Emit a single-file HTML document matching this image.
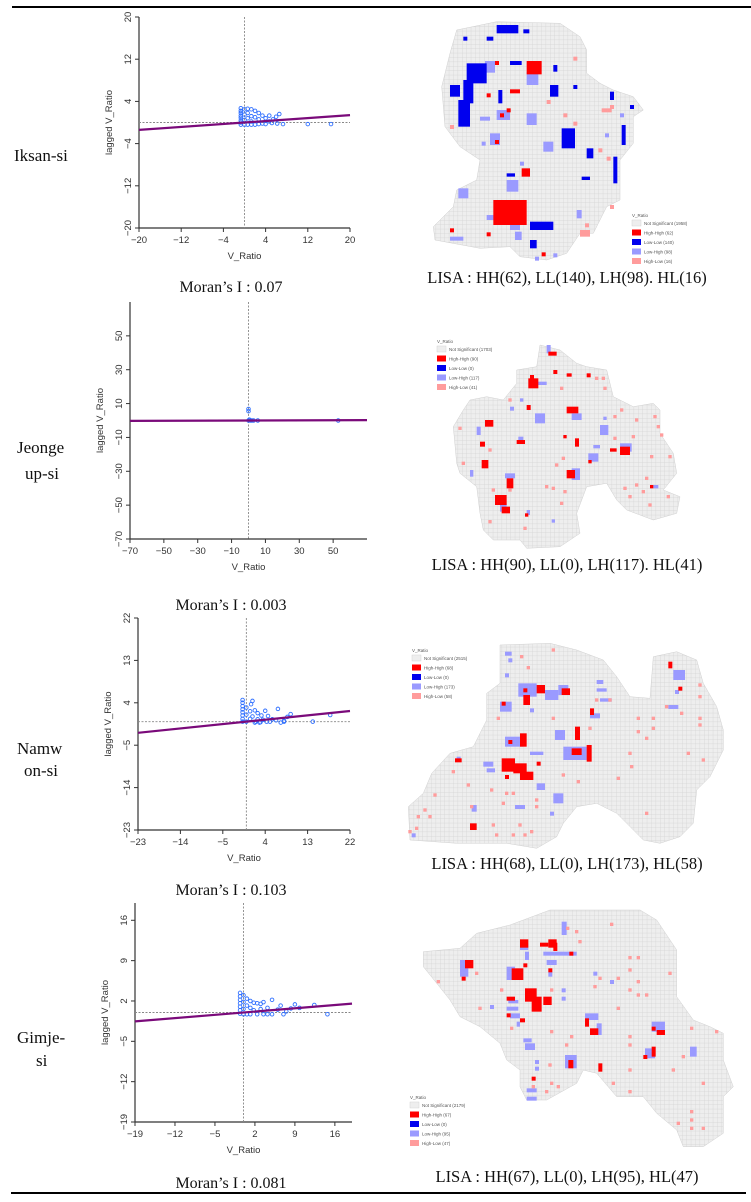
<!DOCTYPE html>
<html><head><meta charset="utf-8">
<style>
html,body{margin:0;padding:0;background:#fff;}
svg{display:block;}
.tk{font-family:"Liberation Sans",sans-serif;font-size:9.5px;fill:#333;}
.sr{font-family:"Liberation Serif",serif;fill:#111;}
.lg{font-family:"Liberation Sans",sans-serif;font-size:4.5px;fill:#555;}
</style></head>
<body>
<svg id="fig" width="751" height="1202" viewBox="0 0 751 1202" xmlns="http://www.w3.org/2000/svg">
<defs>
<pattern id="grid" width="4.4" height="4.4" patternUnits="userSpaceOnUse">
<rect width="4.4" height="4.4" fill="#eeeeee"/>
<path d="M0 0H4.4M0 0V4.4" stroke="#c9c9c9" stroke-width="0.5"/>
</pattern>
</defs>
<line x1="12" y1="7" x2="751" y2="7" stroke="#000" stroke-width="2"/>
<line x1="11" y1="1193" x2="746" y2="1193" stroke="#000" stroke-width="2"/>
<text class="sr" x="14" y="161" font-size="17">Iksan-si</text>
<text class="sr" x="17" y="453" font-size="17">Jeonge</text>
<text class="sr" x="25" y="479" font-size="17">up-si</text>
<text class="sr" x="17" y="754" font-size="17">Namw</text>
<text class="sr" x="24" y="776" font-size="17">on-si</text>
<text class="sr" x="17" y="1043" font-size="17">Gimje-</text>
<text class="sr" x="36" y="1066" font-size="17">si</text>
<g id="plots"></g>
<g id="maps"></g>
</svg>
<script>
// ---- scatter data ----
const p1XTicks=[-20,-12,-4,4,12,20];
const p1YTicks=[-20,-12,-4,4,12,20];
const p1Pts=[[-0.7,2.7],[-0.7,2.2],[-0.7,1.8],[-0.7,1.3],[-0.7,0.9],[-0.7,0.4],[-0.7,0],[-0.7,-0.4],[0,2.5],[0,1.5],[0,0.5],[0,-0.4],[0.6,2.6],[0.6,1.8],[0.6,0.8],[0.6,-0.4],[1.3,2.5],[1.3,1.2],[1.3,0.2],[1.3,-0.4],[2,2.2],[2,1],[2,-0.4],[2.7,1.8],[2.7,0.6],[2.7,-0.3],[3.4,1.3],[3.4,-0.2],[4,0.8],[4,-0.3],[4.7,1.3],[4.7,0.2],[5.4,0.6],[6,1.1],[6.6,1.6],[6.2,-0.2],[7.3,-0.3],[12,-0.3],[16.4,-0.3],[5.2,-0.1]];
const p1Moran=0.07;
const p2XTicks=[-70,-50,-30,-10,10,30,50];
const p2YTicks=[-70,-50,-30,-10,10,30,50];
const p2Pts=[[0,6.8],[0,5.5],[0,0],[1,0],[2,0],[3,0],[5.5,0],[53,0],[0.5,0.5]];
const p2Moran=0.003;
const p3XTicks=[-23,-14,-5,4,13,22];
const p3YTicks=[-23,-14,-5,4,13,22];
const p3Pts=[[-0.8,4.6],[-0.8,4],[-0.8,3.3],[-0.8,2.6],[-0.8,2],[-0.8,1.3],[-0.8,0.6],[-0.8,0],[0,3],[0,1.5],[0,0],[0.8,2.2],[0.8,0.6],[1.3,4.4],[1.3,1.1],[1,3.7],[1.8,2.4],[1.8,-0.2],[2.4,1.8],[2.4,0.5],[2.8,-0.2],[3.2,1.3],[3.5,0.4],[4,2.3],[4.3,0],[4.6,1.2],[5,0],[5.5,0.5],[6.7,2.7],[6.3,0.3],[7.3,-0.2],[8,0.2],[8.7,1],[9.4,1.6],[8,0],[14.1,0],[17.8,1.4],[2,0],[3,-0.1]];
const p3Moran=0.103;
const p4XTicks=[-19,-12,-5,2,9,16];
const p4YTicks=[-19,-12,-5,2,9,16];
const p4Pts=[[-0.6,3.4],[-0.6,2.8],[-0.6,2.2],[-0.6,1.6],[-0.6,1],[-0.6,0.4],[-0.6,-0.2],[0,3],[0,1.8],[0,0.6],[0,-0.3],[0.6,2.4],[0.6,1.2],[0.6,-0.3],[1.2,2],[1.2,0.8],[1.2,-0.3],[1.8,1.7],[1.8,0.4],[2.4,1.6],[2.4,-0.3],[3,1.5],[3,0.6],[3.5,1.8],[3.5,-0.3],[4.2,0.8],[4.2,-0.3],[5,2.2],[5,-0.3],[6.5,1.2],[7,-0.3],[7.5,0.2],[8.3,0.7],[9,1.4],[9.8,0.8],[12.4,1.3],[14.7,-0.3],[6,0.5]];
const p4Moran=0.081;

const NS='http://www.w3.org/2000/svg';
function mk(tag,attrs,parent){const e=document.createElementNS(NS,tag);for(const k in attrs)e.setAttribute(k,attrs[k]);parent.appendChild(e);return e;}

function scatter(name,px0,px1,py0,py1,dmin,dmax,xt,yt,pts,moran,moranY,hline){
  const g=mk('g',{},document.getElementById('plots'));
  
  
  const sx=v=>px0+(v-dmin)/(dmax-dmin)*(px1-px0);
  const sy=v=>py0-(v-dmin)/(dmax-dmin)*(py0-py1);
  const ax=mk('path',{d:`M${px0} ${py1}V${py0}H${px1}`,fill:'none',stroke:'#333','stroke-width':1.2},g);
  
  
  xt.forEach(v=>{
    mk('line',{x1:sx(v),x2:sx(v),y1:py0,y2:py0+4,stroke:'#333'},g);
    const t=mk('text',{x:sx(v),y:py0+15,'text-anchor':'middle',class:'tk'},g);t.textContent=(v<0?'\u2212'+(-v):v);
    
    
  });
  yt.forEach(v=>{
    mk('line',{x1:px0-4,x2:px0,y1:sy(v),y2:sy(v),stroke:'#333'},g);
    const t=mk('text',{x:px0-8,y:sy(v),'text-anchor':'middle',class:'tk',transform:`rotate(-90 ${px0-8} ${sy(v)})`},g);t.textContent=(v<0?'\u2212'+(-v):v);
    
    
  });
  const xtl=mk('text',{x:(px0+px1)/2,y:py0+31,'text-anchor':'middle',class:'tk'},g);xtl.textContent='V_Ratio';
  
  
  const cy=(py0+py1)/2;
  const ytl=mk('text',{x:px0-27,y:cy,'text-anchor':'middle',class:'tk',transform:`rotate(-90 ${px0-27} ${cy})`},g);ytl.textContent='lagged V_Ratio';
  
  
  mk('line',{x1:sx(0),x2:sx(0),y1:py1,y2:py0,stroke:'#888','stroke-dasharray':'2,1.5','stroke-width':0.9},g);
  if(hline) mk('line',{x1:px0,x2:px1,y1:sy(0),y2:sy(0),stroke:'#888','stroke-dasharray':'2,1.5','stroke-width':0.9},g);
  pts.forEach(p=>{
    const c=mk('circle',{cx:sx(p[0]),cy:sy(p[1]),r:1.8,fill:'none',stroke:'#2f6fff','stroke-width':0.9},g);
    
    
  });
  const rl=mk('line',{x1:px0,y1:sy(moran*dmin),x2:px1,y2:sy(moran*dmax),stroke:'#7a0a7a','stroke-width':2.2},g);
  
  
  const mt=mk('text',{x:231,y:moranY,'text-anchor':'middle',class:'sr','font-size':16},g);mt.textContent='Moran\u2019s I : '+moran;
  
  
}
scatter('scatter-iksan',139,350,228,17,-20,20,p1XTicks,p1YTicks,p1Pts,p1Moran,292,true);
scatter('scatter-jeongeup',130,367,539,302,-70,70,p2XTicks,p2YTicks,p2Pts,p2Moran,610,true);
scatter('scatter-namwon',138,350,830,618,-23,22,p3XTicks,p3YTicks,p3Pts,p3Moran,895,true);
scatter('scatter-gimje',135,352,1122,903,-19,19,p4XTicks,p4YTicks,p4Pts,p4Moran,1188,true);

// ---- map data (zoom coords, scale 1/3) ----
const m1Outline=[[230,65],[420,70],[480,110],[500,150],[500,220],[540,250],[580,270],[640,290],[670,330],[640,350],[640,430],[600,480],[600,600],[560,620],[520,700],[480,700],[440,760],[380,780],[300,770],[270,740],[180,745],[45,720],[40,680],[100,620],[110,570],[170,540],[180,480],[120,440],[75,380],[65,260],[90,160],[110,90]];
const m1Red=[[320,183,45,40],[220,600,100,75],[305,505,25,25],[200,280,12,12],[270,268,30,12],[260,325,12,12],[240,340,12,12],[225,420,12,12],[90,685,12,12],[200,697,12,12],[365,757,12,12],[225,183,12,12]];
const m1Blue=[[140,190,60,60],[130,240,30,70],[115,300,35,80],[90,255,30,35],[230,75,65,25],[200,110,20,12],[310,88,18,12],[270,183,35,12],[390,255,25,35],[425,385,40,60],[500,445,20,30],[580,470,12,80],[605,375,12,60],[570,275,12,25],[260,520,25,10],[485,530,25,10],[330,665,70,25],[330,720,20,25],[130,110,12,12],[460,255,12,12],[235,270,12,40],[400,195,12,20],[630,315,12,12]];
const m1Lb=[[195,183,30,35],[320,215,35,40],[320,340,30,35],[230,330,40,30],[210,400,30,35],[115,565,30,30],[260,540,35,35],[200,645,30,15],[270,670,30,20],[470,630,15,25],[90,710,40,12],[285,695,20,25],[345,770,12,12],[400,760,12,12],[180,350,30,12],[370,425,30,30],[300,485,12,12],[185,425,12,12],[600,340,12,12],[555,400,12,12]];
const m1Pk=[[90,375,12,12],[140,255,12,12],[380,300,12,12],[430,340,12,12],[460,365,12,12],[545,325,30,12],[570,315,12,12],[535,445,12,12],[560,470,12,12],[570,615,12,12],[480,690,30,20],[495,670,12,12],[460,170,12,12]];
const m2Outline=[[360,135],[420,150],[470,190],[500,200],[560,210],[580,290],[640,320],[700,310],[720,330],[720,400],[760,460],[770,520],[730,570],[780,590],[770,640],[700,660],[620,630],[590,600],[560,550],[500,560],[470,640],[480,700],[420,740],[320,745],[300,720],[220,720],[190,690],[180,640],[170,560],[120,520],[110,490],[100,380],[130,330],[150,300],[200,290],[250,300],[290,250],[290,210],[350,200]];
const m2Red=[[325,235,30,30],[330,225,12,12],[440,320,35,20],[195,360,25,20],[180,425,15,15],[185,480,20,25],[260,535,20,30],[225,585,35,30],[245,620,25,20],[440,510,25,25],[290,420,25,12],[600,440,30,25],[570,445,20,10],[465,415,12,25],[385,155,25,12],[400,210,12,12],[440,220,15,10],[500,220,12,12],[430,405,10,10],[320,315,12,15],[505,480,10,10],[690,555,10,10],[315,640,10,10]];
const m2Blue=[];
const m2Lb=[[345,340,30,30],[540,375,25,30],[505,460,30,25],[455,505,25,35],[255,520,30,15],[350,245,30,10],[380,135,12,25],[170,380,12,25],[295,410,15,15],[520,435,20,10],[600,430,35,25],[700,555,15,10],[455,340,30,20],[150,510,10,20],[320,630,10,15],[395,658,10,10],[270,320,12,12],[300,295,10,10],[550,350,10,10],[240,610,20,25]];
const m2Pk=[[115,380],[125,485],[205,445],[205,660],[265,295],[310,680],[375,555],[395,560],[405,490],[425,470],[420,605],[430,570],[420,260],[550,260],[525,230],[545,230],[580,410],[580,345],[600,325],[645,355],[700,345],[710,375],[720,400],[635,405],[690,465],[745,465],[675,530],[645,550],[610,560],[665,570],[625,585],[740,585],[685,610],[265,565],[215,565]];
const m3Outline=[[330,105],[480,100],[560,120],[640,150],[680,200],[720,260],[780,265],[790,140],[860,125],[920,150],[940,220],[980,290],[1000,360],[1000,420],[960,500],[920,540],[910,640],[870,680],[810,700],[760,690],[680,610],[620,580],[560,590],[520,640],[500,680],[440,715],[350,700],[200,700],[60,690],[55,590],[100,550],[125,490],[180,430],[250,410],[290,330],[290,250],[330,220]];
const m3Red=[[335,275,12,12],[400,235,12,12],[440,225,25,25],[515,235,25,20],[400,255,20,30],[600,295,12,20],[555,350,15,40],[390,370,20,40],[335,445,40,40],[370,460,40,30],[390,485,40,25],[345,495,12,12],[440,455,12,12],[545,415,30,20],[590,405,15,50],[195,445,20,12],[240,640,20,20],[835,155,12,20],[865,230,12,12],[355,390,12,12]];
const m3Blue=[];
const m3Lb=[[345,125,20,12],[355,145,12,12],[345,190,12,12],[385,220,55,40],[465,240,40,30],[505,225,30,30],[330,275,35,30],[345,380,55,30],[495,360,30,30],[520,410,70,40],[280,455,30,15],[290,475,25,12],[420,425,40,10],[440,520,25,20],[490,550,30,30],[620,210,20,12],[620,235,30,10],[630,265,35,10],[600,310,30,15],[850,180,35,30],[835,285,30,12],[245,585,15,20],[375,585,30,12],[480,605,12,12],[65,670,12,12],[200,440,12,15],[420,295,12,12],[855,240,12,12]];
const m3Pk=[[390,135],[410,168],[485,115],[320,320],[485,320],[595,350],[615,265],[655,265],[740,320],[785,320],[785,350],[740,360],[765,380],[925,220],[925,255],[925,320],[925,340],[870,305],[825,285],[715,425],[890,425],[935,445],[720,465],[680,500],[560,510],[515,490],[435,565],[345,545],[365,545],[335,575],[300,535],[230,520],[185,480],[130,550],[100,595],[80,615],[115,615],[75,650],[55,660],[240,585],[305,640],[385,640],[420,660],[315,670],[365,670],[400,670],[765,605],[435,585]];
const m4Outline=[[300,75],[420,30],[690,30],[740,60],[800,150],[800,290],[850,360],[900,380],[940,400],[940,480],[970,560],[940,590],[940,700],[880,740],[820,740],[800,690],[740,640],[700,590],[620,590],[560,520],[520,510],[500,550],[410,600],[350,600],[330,560],[330,510],[290,480],[270,430],[210,380],[150,350],[120,300],[80,250],[40,200],[40,155],[150,145],[200,100]];
const m4Red=[[330,118,25,25],[390,128,25,12],[415,118,25,25],[430,128,12,25],[478,155,12,12],[165,180,25,25],[155,230,12,12],[305,205,35,35],[340,190,12,12],[415,205,12,12],[345,265,35,40],[365,290,30,45],[400,290,25,25],[290,290,25,12],[290,340,12,12],[330,355,15,12],[525,355,12,25],[540,385,25,20],[725,380,12,12],[740,390,25,15],[700,465,12,12],[725,440,12,30],[475,480,15,25],[565,490,12,25],[365,530,12,12]];
const m4Blue=[];
const m4Lb=[[150,180,25,50],[290,200,25,40],[330,130,25,20],[345,155,12,25],[400,155,100,12],[410,180,30,15],[415,215,12,15],[455,65,15,40],[295,300,30,10],[290,320,35,12],[300,340,30,15],[320,365,10,15],[240,315,12,12],[455,265,12,12],[455,290,12,12],[525,340,40,20],[560,370,15,35],[725,365,40,30],[705,445,30,30],[840,440,20,30],[340,415,25,12],[345,430,30,20],[465,465,35,40],[375,480,12,12],[375,500,12,12],[350,565,30,12],[350,590,30,12],[550,215,12,12],[600,240,12,12]];
const m4Pk=[[80,240],[195,215],[205,320],[270,265],[300,380],[420,265],[420,390],[465,430],[480,405],[495,90],[505,120],[468,80],[600,68],[655,168],[680,168],[655,205],[565,230],[620,230],[550,255],[680,240],[775,215],[655,265],[680,280],[705,280],[620,320],[655,405],[655,430],[840,380],[915,390],[815,465],[415,490],[420,545],[440,555],[405,570],[365,555],[655,505],[605,545],[655,570],[785,505],[875,545],[840,630],[840,655],[800,665],[840,680],[875,680]];

function drawMap(name,ox,oy,outline,red,blue,lb,pk,legX,legY,legCounts,lisa,lisaY){
  const g=mk('g',{},document.getElementById('maps'));
  
  
  const pts=outline.map(p=>(ox+p[0]/3).toFixed(1)+','+(oy+p[1]/3).toFixed(1)).join(' ');
  const poly=mk('polygon',{points:pts,fill:'url(#grid)',stroke:'#d0d0d0','stroke-width':0.5},g);
  
  
  const cell=(arr,col,nm)=>arr.forEach(r=>{
    const w=r.length>2?r[2]:10,h=r.length>2?r[3]:10;
    const e=mk('rect',{x:ox+r[0]/3,y:oy+r[1]/3,width:w/3,height:h/3,fill:col},g);
    
    
  });
  cell(lb,'#9a9aff','low-high-cell');cell(pk,'#ff9c9c','high-low-cell');cell(blue,'#0000ee','low-low-cell');cell(red,'#ff0000','high-high-cell');
  const lg=mk('g',{},g);
  
  
  const t0=mk('text',{x:legX,y:legY,class:'lg'},lg);t0.textContent='V_Ratio';
  const cols=['#eeeeee','#ff0000','#0000ee','#9a9aff','#ff9c9c'];
  const labs=['Not Significant','High-High','Low-Low','Low-High','High-Low'];
  for(let i=0;i<5;i++){
    const y=legY+3+i*9.5;
    const b=mk('rect',{x:legX,y:y,width:9,height:6,fill:cols[i],stroke:i==0?'#ccc':'none','stroke-width':0.4},lg);
    
    
    const t=mk('text',{x:legX+12,y:y+5,class:'lg'},lg);t.textContent=labs[i]+' ('+legCounts[i]+')';
    
    
  }
  const lt=mk('text',{x:567,y:lisaY,'text-anchor':'middle',class:'sr','font-size':16.5},g);lt.textContent=lisa;
  
  
}
drawMap('lisa-map-iksan',420,0,m1Outline,m1Red,m1Blue,m1Lb,m1Pk,632,217,[1958,62,140,98,16],'LISA : HH(62), LL(140), LH(98). HL(16)',283);
drawMap('lisa-map-jeongeup',420,300,m2Outline,m2Red,m2Blue,m2Lb,m2Pk,437,343,[1703,90,0,117,41],'LISA : HH(90), LL(0), LH(117). HL(41)',570);
drawMap('lisa-map-namwon',390,610,m3Outline,m3Red,m3Blue,m3Lb,m3Pk,412,652,[2515,68,0,173,58],'LISA : HH(68), LL(0), LH(173), HL(58)',869);
drawMap('lisa-map-gimje',410,900,m4Outline,m4Red,m4Blue,m4Lb,m4Pk,410,1099,[2179,67,0,95,47],'LISA : HH(67), LL(0), LH(95), HL(47)',1182);
</script>
</body></html>
